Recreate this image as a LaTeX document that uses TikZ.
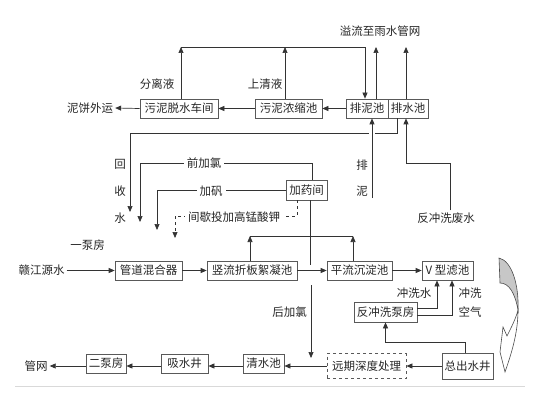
\documentclass[tikz,border=0pt]{standalone}
\usepackage{fontspec}
\setmainfont{Liberation Serif}
\newfontfamily\cjk{Noto Sans CJK SC}
\usetikzlibrary{arrows.meta,calc}
\begin{document}
\begin{tikzpicture}[x=1pt,y=-1pt,
  txt/.style={font=\cjk\fontsize{11.5}{12}\selectfont, text=black!85, inner sep=2pt},
  box/.style={txt, draw=black!65, line width=0.7pt, minimum height=19pt, inner sep=0pt},
  lab/.style={txt, fill=white, inner sep=3pt},
  ln/.style={draw=black!80, line width=0.7pt},
  arr/.style={ln, -{Triangle[length=6pt,width=5pt]}}]
\useasboundingbox (0,0) rectangle (537,406);
% ---------- boxes ----------
\node[box, minimum width=78pt] (tuoshui) at (179,108.5) {污泥脱水车间};
\node[box, minimum width=67pt] (nongsuo) at (288.5,108.5) {污泥浓缩池};
\node[box, minimum width=42pt] (painichi) at (367,108.5) {排泥池};
\node[box, minimum width=40pt] (paishui) at (408,108.5) {排水池};
\node[box, minimum width=41pt, minimum height=20pt] (jiayao) at (306.5,190) {加药间};
\node[box, minimum width=67pt] (hunhe) at (148.5,270.5) {管道混合器};
\node[box, minimum width=90pt] (shuliu) at (252,270.5) {竖流折板絮凝池};
\node[box, minimum width=65pt] (pingliu) at (359.5,270.5) {平流沉淀池};
\node[box, minimum width=51pt] (vlv) at (447.5,270.5) {V 型滤池};
\node[box, minimum width=63pt, minimum height=20pt] (fanchong) at (385.5,312) {反冲洗泵房};
\node[box, minimum width=51pt, minimum height=26pt] (zongchu) at (467.5,366) {总出水井};
\node[box, dashed, minimum width=79pt, minimum height=25pt] (yuanqi) at (366.5,366) {远期深度处理};
\node[box, minimum width=41pt] (qingshui) at (263.5,363.5) {清水池};
\node[box, minimum width=47pt] (xishui) at (184.5,363.5) {吸水井};
\node[box, minimum width=40pt] (erbeng) at (106,363.5) {二泵房};
% ---------- free texts ----------
\node[txt] (nibing) at (90,108) {泥饼外运};
\node[txt] (fenli) at (157,84) {分离液};
\node[txt] (shangqing) at (265,84) {上清液};
\node[txt] (yiliu) at (380,31) {溢流至雨水管网};
\node[txt] (hui) at (120,164) {回};
\node[txt] (shou) at (120,191) {收};
\node[txt] (shui) at (120,218) {水};
\node[txt] (pai) at (362,165) {排};
\node[txt] (ni) at (362,191) {泥};
\node[txt] (fcfs) at (446,218) {反冲洗废水};
\node[txt] (yibeng) at (87.5,245) {一泵房};
\node[txt] (ganjiang) at (41.5,270.5) {赣江源水};
\node[txt] (houjia) at (289.5,312) {后加氯};
\node[txt] (chongxishui) at (414,293) {冲洗水};
\node[txt] (chongxi) at (470,293) {冲洗};
\node[txt] (kongqi) at (470,312) {空气};
\node[txt] (guanwang) at (36,366) {管网};
% ---------- coordinates ----------
\coordinate (topL) at (181,47);
\coordinate (topM) at (285,47);
\coordinate (topR) at (365,47);
\coordinate (ov1) at (376,47);
\coordinate (ov2) at (406,47);
\coordinate (hs1) at (397,133);
\coordinate (hs2) at (130,212);
\coordinate (pn) at (372,198);
\coordinate (fcx) at (450,163);
\coordinate (q1) at (312,163);
\coordinate (q2) at (140,222);
\coordinate (f2) at (157,230);
\coordinate (d1) at (297,216);
\coordinate (d2) at (175,238);
\coordinate (j1) at (310,265);
\coordinate (h1) at (250,236);
\coordinate (h2) at (353,236);
\coordinate (hj1) at (311,285);
\coordinate (hj2) at (311,358);
\coordinate (c1) at (437,308);
\coordinate (c2) at (452,315);
\coordinate (z1) at (465,342);
\coordinate (by) at (0,366);
% ---------- top part ----------
\draw[arr] (painichi.west) -- (nongsuo.east);
\draw[arr] (nongsuo.west) -- (tuoshui.east);
\draw[arr] (tuoshui.west) -- (nibing.east);
\draw[arr] (tuoshui.north -| topL) -- (topL);
\draw[arr] (nongsuo.north -| topM) -- (topM);
\draw[arr] (topL) -- (topR) -- (painichi.north -| topR);
\draw[arr] (painichi.north -| ov1) -- (ov1);
\draw[arr] (paishui.north -| ov2) -- (ov2);
% recovered water
\draw[arr] (paishui.south -| hs1) -- (hs1) -- (hs1 -| hs2) -- (hs2);
\draw[arr, preaction={-, draw=white, line width=6pt, shorten >=11pt, shorten <=60pt}] (pn) -- (painichi.south -| pn);
\draw[arr] (fcfs.north -| fcx) -- (fcx) -- (fcx -| ov2) -- (paishui.south -| ov2);
% chemicals
\draw[arr] (jiayao.north -| q1) -- (q1) -- (q1 -| q2) -- (q2);
\draw[arr] (jiayao.west) -- (jiayao.west -| f2) -- (f2);
\draw[arr, dashed] (jiayao.south -| d1) -- (d1) -- (d1 -| d2) -- (d2);
\node[lab] (qianjia) at (204,163) {前加氯};
\node[lab] (jiafan) at (211,191) {加矾};
\node[lab] (jianxie) at (234,217) {间歇投加高锰酸钾};
\draw[ln] (jiayao.south -| j1) -- (j1);
\draw[ln] (h1) -- (h2);
\draw[arr] (shuliu.north -| h1) -- (h1);
\draw[arr] (pingliu.north -| h2) -- (h2);
% main row
\draw[arr] (ganjiang.east) -- (hunhe.west);
\draw[arr] (hunhe.east) -- (shuliu.west);
\draw[arr] (shuliu.east) -- (pingliu.west);
\draw[arr] (pingliu.east) -- (vlv.west);
\draw[arr] (hj1) -- (hj2);
% backwash
\draw[arr] (fanchong.east |- c1) -- (c1) -- (vlv.south -| c1);
\draw[arr] (fanchong.east |- c2) -- (c2) -- (vlv.south -| c2);
\draw[arr] (zongchu.north -| z1) -- (z1) -| (fanchong.south);
% bottom row
\draw[arr] (zongchu.west) -- (yuanqi.east);
\draw[arr] (yuanqi.west) -- (qingshui.east |- by);
\draw[arr] (qingshui.west |- by) -- (xishui.east |- by);
\draw[arr] (xishui.west |- by) -- (erbeng.east |- by);
\draw[arr] (erbeng.west |- by) -- (guanwang.east);
% curved big arrow
\draw[black!70, line width=0.6pt, fill=black!22]
  (499,258) .. controls (512,261) and (519,285) .. (518,310)
  .. controls (515,293) and (509,283) .. (500,283) -- cycle;
\draw[black!70, line width=0.6pt, fill=white]
  (518,310) .. controls (518,332) and (512,352) .. (505,372)
  -- (500,352) -- (503,327) -- (507,336)
  .. controls (512,326) and (516,318) .. (518,310) -- cycle;
% separator
\draw[black!15, line width=0.8pt] (15,386) -- (525,386);
\end{tikzpicture}
\end{document}
